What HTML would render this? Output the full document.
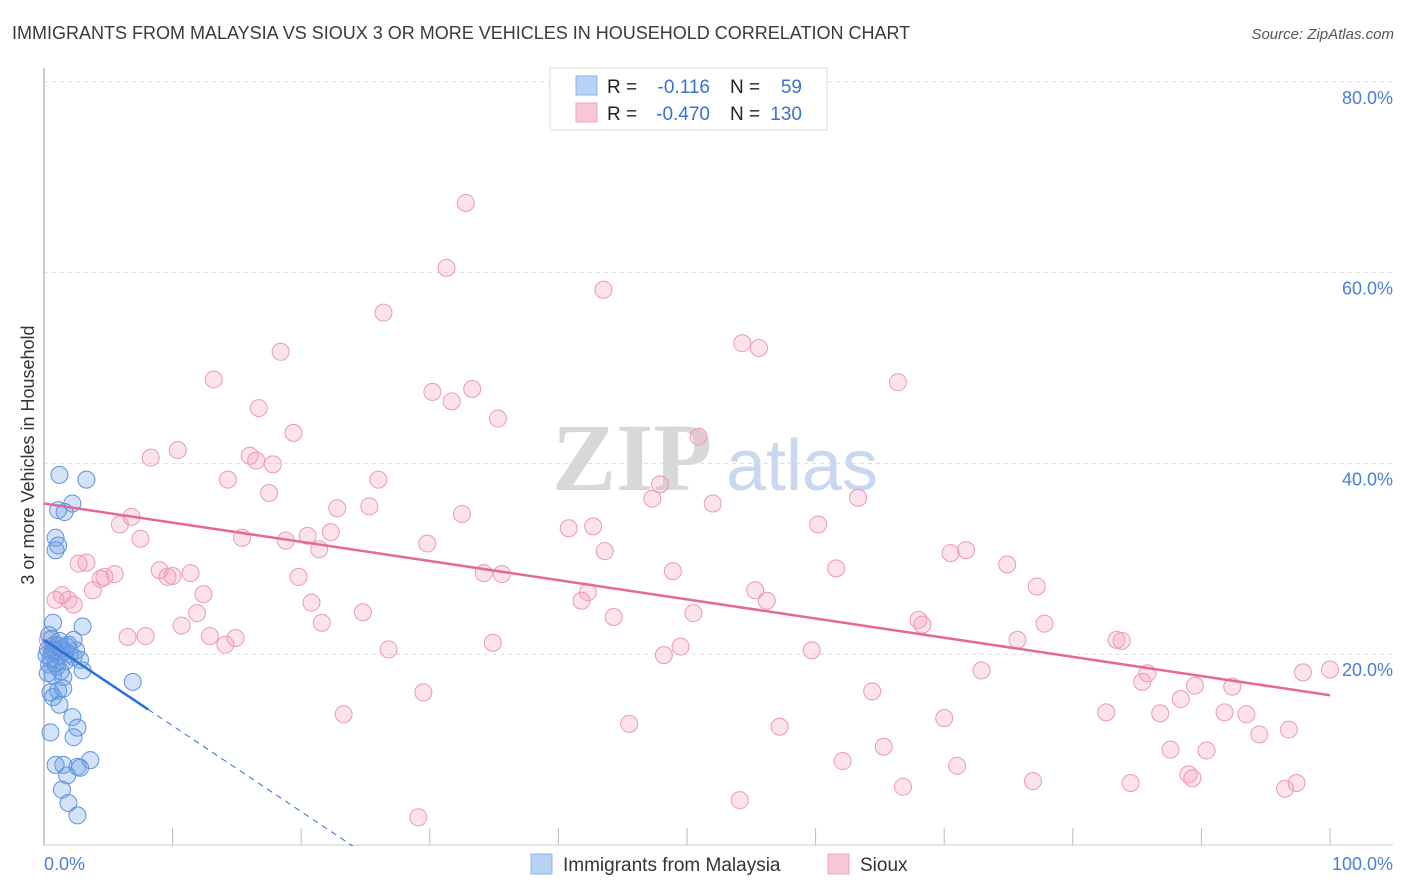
<!DOCTYPE html>
<html><head><meta charset="utf-8"><style>
body{margin:0;background:#fff;font-family:"Liberation Sans",sans-serif}
svg{display:block}
</style></head><body>
<svg width="1406" height="892" viewBox="0 0 1406 892">
<text x="12" y="39" font-size="18" fill="#3a3a3a">IMMIGRANTS FROM MALAYSIA VS SIOUX 3 OR MORE VEHICLES IN HOUSEHOLD CORRELATION CHART</text>
<text x="1394" y="39" font-size="15" fill="#555" font-style="italic" text-anchor="end">Source: ZipAtlas.com</text>
<g>
<text x="632" y="490" font-size="96" font-family="Liberation Serif,serif" fill="#d8d8d8" text-anchor="middle" font-weight="bold">ZIP</text>
<text x="802" y="490" font-size="72" fill="#c8d8ee" text-anchor="middle">atlas</text>
</g>
<g id="grid"></g>
<g id="axes"></g>
<g id="pts"></g>
<g id="lines"></g>
<text transform="translate(34,455) rotate(-90)" font-size="18" fill="#333" text-anchor="middle">3 or more Vehicles in Household</text>
<text x="44" y="870" font-size="18" fill="#4a7fd4">0.0%</text>
<text x="1393" y="870" font-size="18" fill="#4a7fd4" text-anchor="end">100.0%</text>
<g>
<rect x="550" y="68" width="277" height="62" fill="#fff" stroke="#ddd"/>
<rect x="576" y="76" width="21" height="19" fill="#b9d3f5" stroke="#8cb3ea"/>
<rect x="576" y="103" width="21" height="19" fill="#f9c8d7" stroke="#efa3bd"/>
<text x="607" y="93" font-size="19" fill="#222">R =</text>
<text x="710" y="93" font-size="19" fill="#3a70cc" text-anchor="end">-0.116</text>
<text x="730" y="93" font-size="19" fill="#222">N =</text>
<text x="802" y="93" font-size="19" fill="#3a70cc" text-anchor="end">59</text>
<text x="607" y="120" font-size="19" fill="#222">R =</text>
<text x="710" y="120" font-size="19" fill="#3a70cc" text-anchor="end">-0.470</text>
<text x="730" y="120" font-size="19" fill="#222">N =</text>
<text x="802" y="120" font-size="19" fill="#3a70cc" text-anchor="end">130</text>
</g>
<g>
<rect x="531" y="854" width="21" height="20" fill="#b9d3f5" stroke="#8cb3ea"/>
<text x="563" y="871" font-size="19" fill="#333">Immigrants from Malaysia</text>
<rect x="828" y="854" width="21" height="20" fill="#f9c8d7" stroke="#efa3bd"/>
<text x="860" y="871" font-size="19" fill="#333">Sioux</text>
</g>
</svg>
<script>
const yTicks=[20,40,60,80];
const yTickLabels=["20.0%","40.0%","60.0%","80.0%"];
const xTicks=[10,20,30,40,50,60,70,80,90,100];
const blueX=[1.2,3.3,2.2,1.1,1.6,0.9,1.1,0.9,0.7,3.0,2.3,0.6,1.8,2.3,3.0,1.0,1.5,6.9,1.1,0.7,1.2,2.2,2.6,2.3,0.5,0.9,1.5,3.6,2.6,2.8,1.8,1.4,1.9,2.6,0.3,0.5,0.8,1.0,1.2,1.4,0.4,0.9,1.6,2.0,1.7,0.6,1.3,0.2,2.5,0.7,1.9,1.1,0.4,2.8,0.5,1.5,0.3,1.2,0.8];
const blueY=[38.8,38.3,35.8,35.1,34.9,32.2,31.4,30.9,23.3,22.9,21.5,20.1,20.8,19.7,18.3,18.7,17.6,17.1,16.2,15.5,14.7,13.4,12.3,11.3,11.8,8.4,8.4,8.9,8.2,8.1,7.3,5.8,4.4,3.1,20.5,19.5,21.0,20.2,19.8,20.6,18.9,19.0,20.3,20.0,19.3,21.6,18.2,19.9,20.4,17.8,21.0,20.9,22.0,19.4,16.0,16.4,18.0,21.4,20.4];
const pinkX=[32.8,31.3,43.5,26.4,18.4,54.3,55.6,66.4,13.2,30.2,31.7,33.3,16.7,35.3,19.4,50.9,10.4,8.3,16.0,16.5,17.8,14.3,26.0,47.9,47.3,17.5,22.8,25.3,52.0,63.3,32.5,6.8,5.9,60.2,40.8,42.7,15.4,7.5,18.8,20.5,22.3,21.4,29.8,43.6,70.5,71.7,3.3,2.7,9.0,11.4,9.6,10.0,5.5,4.7,4.4,48.9,61.6,74.9,19.8,34.2,35.6,3.8,1.4,1.9,0.9,2.3,12.4,42.3,41.8,55.3,56.2,77.2,20.8,11.9,24.8,44.3,50.5,68.0,68.3,10.7,21.6,77.8,6.5,7.9,12.9,14.9,14.1,34.9,49.5,48.2,26.8,59.7,75.7,83.4,83.8,72.9,85.8,85.4,89.5,92.4,97.9,100,29.5,64.4,88.4,23.3,45.5,70.0,82.6,86.8,91.8,93.5,57.2,94.5,96.8,65.3,87.6,90.4,62.1,71.0,89.0,89.3,76.9,84.5,66.8,97.4,96.5,54.1,29.1,0.3,0.6];
const pinkY=[67.3,60.5,58.2,55.8,51.7,52.6,52.1,48.5,48.8,47.5,46.5,47.8,45.8,44.7,43.2,42.8,41.4,40.6,40.8,40.3,39.9,38.3,38.3,37.8,36.3,36.9,35.3,35.5,35.8,36.4,34.7,34.4,33.6,33.6,33.2,33.4,32.2,32.1,31.9,32.4,32.8,31.0,31.6,30.8,30.6,30.9,29.6,29.5,28.8,28.5,28.1,28.2,28.4,28.1,27.9,28.7,29.0,29.4,28.1,28.5,28.4,26.7,26.2,25.7,25.7,25.2,26.3,26.5,25.6,26.7,25.6,27.1,25.4,24.3,24.4,23.9,24.3,23.6,23.1,23.0,23.3,23.2,21.8,21.9,21.9,21.7,21.0,21.2,20.8,19.9,20.5,20.4,21.5,21.5,21.4,18.3,18.0,17.1,16.7,16.6,18.1,18.4,16.0,16.1,15.3,13.7,12.7,13.3,13.9,13.8,13.9,13.7,12.4,11.6,12.1,10.3,10.0,9.9,8.8,8.3,7.4,7.0,6.7,6.5,6.1,6.5,5.9,4.7,2.9,21.5,20.8];
const pinkTrend=[35.8,15.7];
const blueTrend=[21.5,-0.9,8.1,24];
const NS='http://www.w3.org/2000/svg';
const sx=v=>44+v*12.86, sy=v=>845-v*9.54;
function mk(t,a,p){const e=document.createElementNS(NS,t);for(const k in a)e.setAttribute(k,a[k]);document.getElementById(p).appendChild(e);return e;}
yTicks.forEach((t,i)=>{
 const l=mk('line',{x1:44,x2:1393,y1:sy(t),y2:sy(t),stroke:'#ddd','stroke-dasharray':'4,4'},'grid');
 
 
 const tx=mk('text',{x:1393,y:sy(t)+22,'font-size':18,fill:'#4a7fd4','text-anchor':'end'},'grid');
 tx.textContent=yTickLabels[i];
 
 
});
const ya=mk('line',{x1:44,x2:44,y1:68,y2:845,stroke:'#bbb','stroke-width':1.5},'axes');


const xa=mk('line',{x1:44,x2:1393,y1:845,y2:845,stroke:'#ccc'},'axes');


xTicks.forEach(t=>{
 const l=mk('line',{x1:sx(t),x2:sx(t),y1:828,y2:845,stroke:'#bbb'},'axes');
 
 
});
pinkX.forEach((x,i)=>{
 const c=mk('circle',{cx:sx(x),cy:sy(pinkY[i]),r:8.5,fill:'rgba(244,160,190,0.3)',stroke:'#eb9ab6','stroke-width':1},'pts');
 
 
});
blueX.forEach((x,i)=>{
 const c=mk('circle',{cx:sx(x),cy:sy(blueY[i]),r:8.5,fill:'rgba(110,160,230,0.3)',stroke:'#5c93e0','stroke-width':1},'pts');
 
 
});
const pl=mk('line',{x1:sx(0),y1:sy(pinkTrend[0]),x2:sx(100),y2:sy(pinkTrend[1]),stroke:'#e8679a','stroke-width':2.5},'lines');


const by=x=>blueTrend[0]+blueTrend[1]*x;
const bl=mk('line',{x1:sx(0),y1:sy(by(0)),x2:sx(blueTrend[2]),y2:sy(by(blueTrend[2])),stroke:'#2b6fd6','stroke-width':2.5},'lines');


const bd=mk('line',{x1:sx(blueTrend[2]),y1:sy(by(blueTrend[2])),x2:sx(blueTrend[3]),y2:sy(by(blueTrend[3])),stroke:'#2b6fd6','stroke-width':1,'stroke-dasharray':'6,5'},'lines');


</script>
</body></html>
